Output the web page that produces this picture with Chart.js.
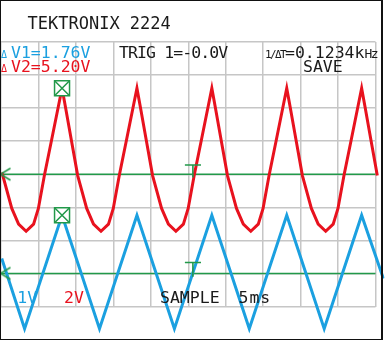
<!DOCTYPE html>
<html>
<head>
<meta charset="utf-8">
<script src="https://cdn.jsdelivr.net/npm/chart.js@4.4.1/dist/chart.umd.min.js"></script>
<style>
  html, body { margin: 0; padding: 0; background: #fff; }
  #scope { position: relative; width: 385px; height: 342px; overflow: hidden; font-family: "DejaVu Sans Mono", monospace; }
  #scope canvas { position: absolute; left: 0; top: 0; }
  .frame { position: absolute; left: 0; top: 0; width: 383px; height: 340px; box-sizing: border-box; border: 1px solid #111; border-right-width: 2px; pointer-events: none; }
  .txt { position: absolute; white-space: nowrap; line-height: 1; color: #1a1a1a; font-size: 16.5px; }
  .blue { color: #1ba0e0; }
  .red { color: #e8121e; }
  .d { display: inline-block; width: 10px; font-size: 10px; }
</style>
</head>
<body>
<div id="scope">
  <canvas id="chart" width="385" height="342"></canvas>
  <div class="txt" style="left:27.5px;top:14.7px;font-size:17px">TEKTRONIX 2224</div>
  <div class="txt blue" style="left:1px;top:44.8px"><span class="d">Δ</span>V1=1.76V</div>
  <div class="txt red" style="left:1px;top:58.8px"><span class="d">Δ</span>V2=5.20V</div>
  <div class="txt" style="left:119px;top:44.8px;letter-spacing:-0.9px">TRIG 1=-0.0V</div>
  <div class="txt" style="left:265px;top:44.8px"><span style="display:inline-block;width:20px;font-size:11px;letter-spacing:-1.6px">1/ΔT</span>=0.1234k<span style="font-size:13px;letter-spacing:-1.5px">Hz</span></div>
  <div class="txt" style="left:303px;top:58.8px">SAVE</div>
  <div class="txt blue" style="left:17.3px;top:289.8px">1V</div>
  <div class="txt red" style="left:64px;top:289.8px">2V</div>
  <div class="txt" style="left:160px;top:289.8px">SAMPLE</div>
  <div class="txt" style="left:238.5px;top:289.8px;letter-spacing:1px">5ms</div>
  <div class="frame"></div>
</div>
<script>
// time in ms (5 ms/div), CH2 red in volts (2 V/div), CH1 blue in volts (1 V/div)
const redT = [0.1, 0.24, 1.44, 2.35, 3.35, 4.35, 4.99, 5.79, 6.72, 7.65, 8.15,
  8.6, 9.42, 10.24, 11.44, 12.35, 13.35, 14.35, 14.99, 15.79, 16.72, 17.65, 18.15,
  18.6, 19.42, 20.24, 21.44, 22.35, 23.35, 24.35, 24.99, 25.79, 26.72, 27.65, 28.15,
  28.6, 29.42, 30.24, 31.44, 32.35, 33.35, 34.35, 34.99, 35.79, 36.72, 37.65, 38.15,
  38.6, 39.42, 40.24, 41.44, 42.35, 43.35, 44.35, 44.99, 45.79, 46.72, 47.65, 48.15,
  48.6, 49.42, 50.24, 51.05];
const redV = [0.1, -0.08, -2.07, -3.02, -3.45, -3.02, -2.07, -0.08, 2.0, 4.08, 5.2,
  4.08, 2.0, -0.08, -2.07, -3.02, -3.45, -3.02, -2.07, -0.08, 2.0, 4.08, 5.2,
  4.08, 2.0, -0.08, -2.07, -3.02, -3.45, -3.02, -2.07, -0.08, 2.0, 4.08, 5.2,
  4.08, 2.0, -0.08, -2.07, -3.02, -3.45, -3.02, -2.07, -0.08, 2.0, 4.08, 5.2,
  4.08, 2.0, -0.08, -2.07, -3.02, -3.45, -3.02, -2.07, -0.08, 2.0, 4.08, 5.2,
  4.08, 2.0, -0.08, -0.9];
const blueT = [0.1, 3.15, 8.15, 13.15, 18.15, 23.15, 28.15, 33.15, 38.15, 43.15, 48.15, 51.05];
const blueV = [0.45, -1.67, 1.76, -1.67, 1.76, -1.67, 1.76, -1.67, 1.76, -1.67, 1.76, -0.15];

const cursorT = 8.15;
const cursorRed = 5.2;
const cursorBlue = 1.76;
const trigT = [24.55, 26.7, 25.62];
const trigRed = [0.56, -0.2];
const trigBlue = [0.33, -0.1];

const RED = '#e8121e';
const BLUE = '#1ba0e0';
const GREEN = '#22994a';
const GRID = '#c6c6c6';

const pts = (xs, ys) => xs.map((x, i) => ({ x: x, y: ys[i] }));

function chevron() {
    const c = document.createElement('canvas');
    c.width = 12;
    c.height = 16;
    const g = c.getContext('2d');
    g.strokeStyle = GREEN;
    g.lineWidth = 1.6;
    g.beginPath();
    g.moveTo(11, 2);
    g.lineTo(1, 8);
    g.lineTo(11, 14);
    g.stroke();
    return c;
}
const chev = chevron();

const clip = { left: 2, top: 42, right: 9, bottom: 35 };
const line = (data, axis, color, width, order) => ({
    data: data, yAxisID: axis, borderColor: color, borderWidth: width,
    showLine: true, pointRadius: 0, tension: 0, order: order, clip: clip
});
const marker = (data, axis, style, radius, order) => ({
    data: data, yAxisID: axis, showLine: false, pointStyle: style,
    pointRadius: radius, pointBorderColor: GREEN, pointBackgroundColor: '#fff',
    pointBorderWidth: 1.5, order: order, clip: clip
});

const trigShape = (lv) => [
    { x: trigT[0], y: lv[0] }, { x: trigT[1], y: lv[0] }, { x: trigT[2], y: null },
    { x: trigT[2], y: lv[0] }, { x: trigT[2], y: lv[1] }
];

new Chart(document.getElementById('chart'), {
    type: 'scatter',
    data: {
        datasets: [
            line([{ x: -0.2, y: 0 }, { x: 50, y: 0 }], 'y', GREEN, 1.6, 10),
            line([{ x: -0.2, y: 0 }, { x: 50, y: 0 }], 'yb', GREEN, 1.6, 10),
            line(pts(blueT, blueV), 'yb', BLUE, 3, 5),
            line(pts(redT, redV), 'y', RED, 3, 4),
            line(trigShape(trigRed), 'y', GREEN, 1.6, 3),
            line(trigShape(trigBlue), 'yb', GREEN, 1.6, 3),
            marker([{ x: 0.6, y: 0 }], 'y', chev, 6, 2),
            marker([{ x: 0.6, y: 0 }], 'yb', chev, 6, 2),
            marker([{ x: cursorT, y: cursorRed }], 'y', 'rect', 10.6, 1),
            marker([{ x: cursorT, y: cursorBlue }], 'yb', 'rect', 10.6, 1),
            marker([{ x: cursorT, y: cursorRed }], 'y', 'crossRot', 10.6, 0),
            marker([{ x: cursorT, y: cursorBlue }], 'yb', 'crossRot', 10.6, 0)
        ]
    },
    options: {
        responsive: false,
        animation: false,
        events: [],
        layout: { autoPadding: false, padding: { left: 1, top: 42, right: 9.5, bottom: 35.5 } },
        plugins: { legend: { display: false }, tooltip: { enabled: false } },
        scales: {
            x: {
                type: 'linear', min: 0, max: 50,
                ticks: { display: false, stepSize: 5 },
                grid: { color: GRID, lineWidth: 1.5, drawTicks: false },
                border: { display: false },
                afterFit: (s) => { s.height = 0; }
            },
            y: {
                type: 'linear', min: -8, max: 8,
                ticks: { display: false, stepSize: 2 },
                grid: { color: GRID, lineWidth: 1.5, drawTicks: false },
                border: { display: false },
                afterFit: (s) => { s.width = 0; }
            },
            yb: {
                type: 'linear', min: -1, max: 7, display: false
            }
        }
    }
});
</script>
</body>
</html>
